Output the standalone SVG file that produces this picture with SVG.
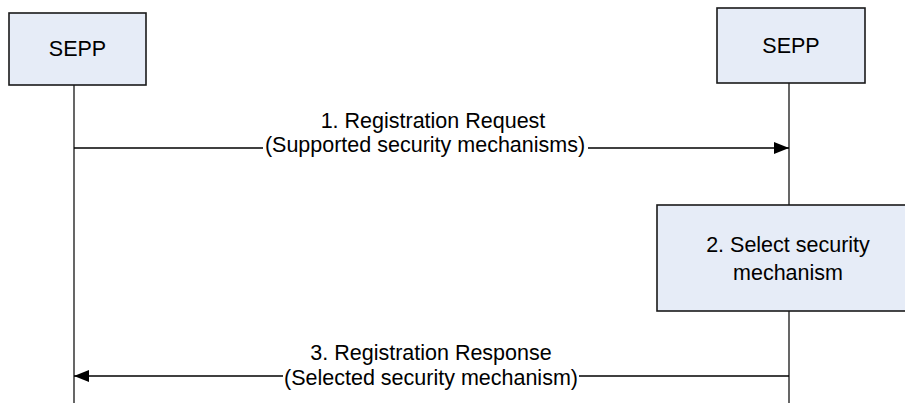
<svg xmlns="http://www.w3.org/2000/svg" width="905" height="403" viewBox="0 0 905 403">
<style>
.box{fill:#e6ecf7;stroke:#1a1a1a;stroke-width:1.6}
.t{font-family:"Liberation Sans",Arial,sans-serif;font-size:21.5px;fill:#000;text-anchor:middle}
.life{stroke:#000;stroke-width:1.2;fill:none}
.msg{stroke:#000;stroke-width:1.5;fill:none}
</style>
<defs>
<marker id="ah" markerWidth="15" markerHeight="12" refX="15" refY="6" orient="auto" markerUnits="userSpaceOnUse">
<path d="M0,0 L15,6 L0,12 z" fill="#000"/>
</marker>
</defs>
<g id="connectors">
<line class="life" x1="74" y1="85" x2="74" y2="403"/>
<line class="life" x1="789" y1="83" x2="789" y2="205"/>
<line class="life" x1="789" y1="311" x2="789" y2="403"/>
<line class="msg" x1="74" y1="148" x2="263" y2="148"/>
<line class="msg" x1="588" y1="148" x2="789" y2="148" marker-end="url(#ah)"/>
<line class="msg" x1="283" y1="376" x2="74" y2="376" marker-end="url(#ah)"/>
<line class="msg" x1="579" y1="376" x2="789" y2="376"/>
<text class="t" x="433" y="128">1. Registration Request</text>
<text class="t" x="425" y="152">(Supported security mechanisms)</text>
<text class="t" x="431" y="360">3. Registration Response</text>
<text class="t" x="431" y="385">(Selected security mechanism)</text>
</g>
<g id="sepp-left">
<rect class="box" x="9" y="13" width="137" height="72"/>
<text class="t" x="77.5" y="56">SEPP</text>
</g>
<g id="sepp-right">
<rect class="box" x="717" y="8" width="148" height="75"/>
<text class="t" x="791" y="53">SEPP</text>
</g>
<g id="select">
<rect class="box" x="657" y="205" width="262" height="106"/>
<text class="t" x="788" y="252">2. Select security</text>
<text class="t" x="788" y="280">mechanism</text>
</g>
</svg>
